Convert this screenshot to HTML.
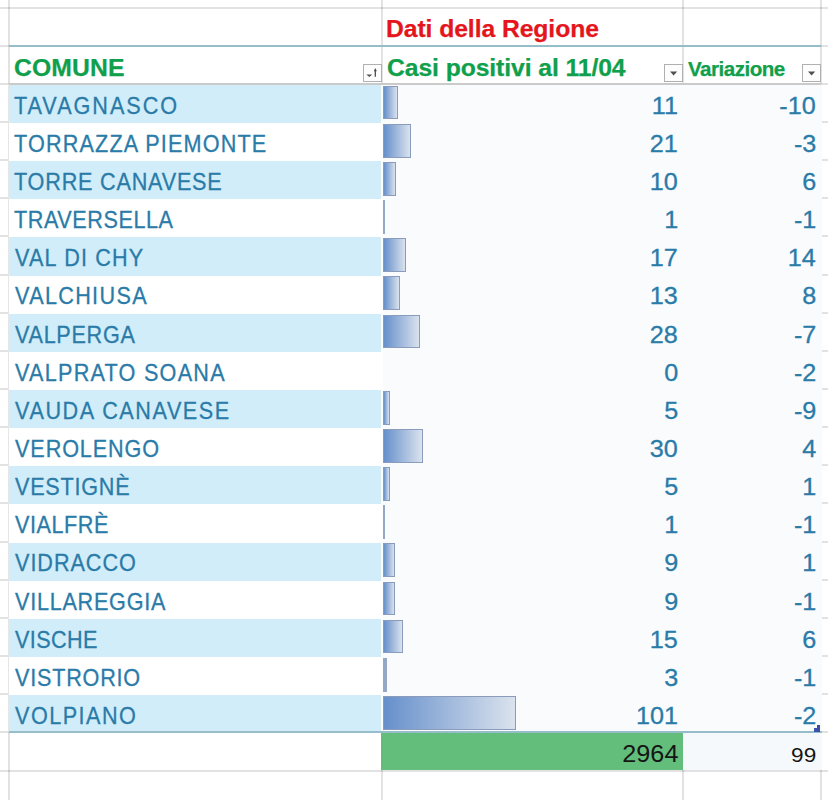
<!DOCTYPE html>
<html><head><meta charset="utf-8"><style>
html,body{margin:0;padding:0;background:#fff;width:828px;height:800px;overflow:hidden}
body{position:relative;font-family:"Liberation Sans",sans-serif}
.t{position:absolute;line-height:normal;white-space:nowrap}
</style></head><body>
<div style="position:absolute;left:0.00px;top:6.50px;width:828.00px;height:2.00px;background:rgba(0,0,0,0.115)"></div><div style="position:absolute;left:0.00px;top:44.65px;width:828.00px;height:2.00px;background:rgba(0,0,0,0.115)"></div><div style="position:absolute;left:0.00px;top:82.80px;width:828.00px;height:2.00px;background:rgba(0,0,0,0.115)"></div><div style="position:absolute;left:0.00px;top:120.95px;width:828.00px;height:2.00px;background:rgba(0,0,0,0.115)"></div><div style="position:absolute;left:0.00px;top:159.10px;width:828.00px;height:2.00px;background:rgba(0,0,0,0.115)"></div><div style="position:absolute;left:0.00px;top:197.25px;width:828.00px;height:2.00px;background:rgba(0,0,0,0.115)"></div><div style="position:absolute;left:0.00px;top:235.40px;width:828.00px;height:2.00px;background:rgba(0,0,0,0.115)"></div><div style="position:absolute;left:0.00px;top:273.55px;width:828.00px;height:2.00px;background:rgba(0,0,0,0.115)"></div><div style="position:absolute;left:0.00px;top:311.70px;width:828.00px;height:2.00px;background:rgba(0,0,0,0.115)"></div><div style="position:absolute;left:0.00px;top:349.85px;width:828.00px;height:2.00px;background:rgba(0,0,0,0.115)"></div><div style="position:absolute;left:0.00px;top:388.00px;width:828.00px;height:2.00px;background:rgba(0,0,0,0.115)"></div><div style="position:absolute;left:0.00px;top:426.15px;width:828.00px;height:2.00px;background:rgba(0,0,0,0.115)"></div><div style="position:absolute;left:0.00px;top:464.30px;width:828.00px;height:2.00px;background:rgba(0,0,0,0.115)"></div><div style="position:absolute;left:0.00px;top:502.45px;width:828.00px;height:2.00px;background:rgba(0,0,0,0.115)"></div><div style="position:absolute;left:0.00px;top:540.60px;width:828.00px;height:2.00px;background:rgba(0,0,0,0.115)"></div><div style="position:absolute;left:0.00px;top:578.75px;width:828.00px;height:2.00px;background:rgba(0,0,0,0.115)"></div><div style="position:absolute;left:0.00px;top:616.90px;width:828.00px;height:2.00px;background:rgba(0,0,0,0.115)"></div><div style="position:absolute;left:0.00px;top:655.05px;width:828.00px;height:2.00px;background:rgba(0,0,0,0.115)"></div><div style="position:absolute;left:0.00px;top:693.20px;width:828.00px;height:2.00px;background:rgba(0,0,0,0.115)"></div><div style="position:absolute;left:0.00px;top:731.35px;width:828.00px;height:2.00px;background:rgba(0,0,0,0.115)"></div><div style="position:absolute;left:0.00px;top:769.50px;width:828.00px;height:2.00px;background:rgba(0,0,0,0.115)"></div><div style="position:absolute;left:8.00px;top:0.00px;width:2.00px;height:83.80px;background:rgba(0,0,0,0.115)"></div><div style="position:absolute;left:8.00px;top:732.35px;width:2.00px;height:67.65px;background:rgba(0,0,0,0.115)"></div><div style="position:absolute;left:381.00px;top:0.00px;width:2.00px;height:83.80px;background:rgba(0,0,0,0.115)"></div><div style="position:absolute;left:381.00px;top:732.35px;width:2.00px;height:67.65px;background:rgba(0,0,0,0.115)"></div><div style="position:absolute;left:682.00px;top:0.00px;width:2.00px;height:83.80px;background:rgba(0,0,0,0.115)"></div><div style="position:absolute;left:682.00px;top:732.35px;width:2.00px;height:67.65px;background:rgba(0,0,0,0.115)"></div><div style="position:absolute;left:820.00px;top:0.00px;width:2.00px;height:83.80px;background:rgba(0,0,0,0.115)"></div><div style="position:absolute;left:820.00px;top:732.35px;width:2.00px;height:67.65px;background:rgba(0,0,0,0.115)"></div><div style="position:absolute;left:8.00px;top:83.80px;width:1.00px;height:648.55px;background:#e6e6e6"></div><div style="position:absolute;left:9.00px;top:84.80px;width:372.00px;height:38.15px;background:#d1edf9"></div><div style="position:absolute;left:9.00px;top:122.95px;width:372.00px;height:38.15px;background:#ffffff"></div><div style="position:absolute;left:9.00px;top:161.10px;width:372.00px;height:38.15px;background:#d1edf9"></div><div style="position:absolute;left:9.00px;top:199.25px;width:372.00px;height:38.15px;background:#ffffff"></div><div style="position:absolute;left:9.00px;top:237.40px;width:372.00px;height:38.15px;background:#d1edf9"></div><div style="position:absolute;left:9.00px;top:275.55px;width:372.00px;height:38.15px;background:#ffffff"></div><div style="position:absolute;left:9.00px;top:313.70px;width:372.00px;height:38.15px;background:#d1edf9"></div><div style="position:absolute;left:9.00px;top:351.85px;width:372.00px;height:38.15px;background:#ffffff"></div><div style="position:absolute;left:9.00px;top:390.00px;width:372.00px;height:38.15px;background:#d1edf9"></div><div style="position:absolute;left:9.00px;top:428.15px;width:372.00px;height:38.15px;background:#ffffff"></div><div style="position:absolute;left:9.00px;top:466.30px;width:372.00px;height:38.15px;background:#d1edf9"></div><div style="position:absolute;left:9.00px;top:504.45px;width:372.00px;height:38.15px;background:#ffffff"></div><div style="position:absolute;left:9.00px;top:542.60px;width:372.00px;height:38.15px;background:#d1edf9"></div><div style="position:absolute;left:9.00px;top:580.75px;width:372.00px;height:38.15px;background:#ffffff"></div><div style="position:absolute;left:9.00px;top:618.90px;width:372.00px;height:38.15px;background:#d1edf9"></div><div style="position:absolute;left:9.00px;top:657.05px;width:372.00px;height:38.15px;background:#ffffff"></div><div style="position:absolute;left:9.00px;top:695.20px;width:372.00px;height:38.15px;background:#d1edf9"></div><div style="position:absolute;left:381.00px;top:84.80px;width:2.00px;height:647.55px;background:#fff"></div><div style="position:absolute;left:383.00px;top:84.80px;width:438.50px;height:647.55px;background:#f9fbfd"></div><div style="position:absolute;left:9.00px;top:82.80px;width:812.00px;height:2.00px;background:#cacaca"></div><div style="position:absolute;left:9.00px;top:44.65px;width:812.00px;height:2.00px;background:#96bdca"></div><div style="position:absolute;left:9.00px;top:731.35px;width:813.00px;height:2.00px;background:#96bdca"></div><div style="position:absolute;left:10.00px;top:46.65px;width:810.00px;height:36.15px;background:#fff"></div><div style="position:absolute;left:381.00px;top:46.65px;width:2.00px;height:36.15px;background:rgba(0,0,0,0.115)"></div><div style="position:absolute;left:682.00px;top:46.65px;width:2.00px;height:36.15px;background:rgba(0,0,0,0.115)"></div><div style="position:absolute;left:381.00px;top:733.35px;width:302.00px;height:37.15px;background:#63be7b"></div><div style="position:absolute;left:683.00px;top:733.35px;width:139.00px;height:37.15px;background:#f6f9fb"></div><div style="position:absolute;left:383.30px;top:85.60px;width:14.46px;height:33.80px;box-sizing:border-box;border:1.25px solid #8a9bbb;background:linear-gradient(to right,#6690cb,#dae2ed)"></div><div style="position:absolute;left:383.30px;top:123.75px;width:27.61px;height:33.80px;box-sizing:border-box;border:1.25px solid #8a9bbb;background:linear-gradient(to right,#6690cb,#dae2ed)"></div><div style="position:absolute;left:383.30px;top:161.90px;width:13.15px;height:33.80px;box-sizing:border-box;border:1.25px solid #8a9bbb;background:linear-gradient(to right,#6690cb,#dae2ed)"></div><div style="position:absolute;left:383.30px;top:200.05px;width:1.50px;height:33.80px;background:#95a7c6"></div><div style="position:absolute;left:383.30px;top:238.20px;width:22.36px;height:33.80px;box-sizing:border-box;border:1.25px solid #8a9bbb;background:linear-gradient(to right,#6690cb,#dae2ed)"></div><div style="position:absolute;left:383.30px;top:276.35px;width:17.09px;height:33.80px;box-sizing:border-box;border:1.25px solid #8a9bbb;background:linear-gradient(to right,#6690cb,#dae2ed)"></div><div style="position:absolute;left:383.30px;top:314.50px;width:36.82px;height:33.80px;box-sizing:border-box;border:1.25px solid #8a9bbb;background:linear-gradient(to right,#6690cb,#dae2ed)"></div><div style="position:absolute;left:383.30px;top:390.80px;width:6.57px;height:33.80px;box-sizing:border-box;border:1.25px solid #8a9bbb;background:linear-gradient(to right,#6690cb,#dae2ed)"></div><div style="position:absolute;left:383.30px;top:428.95px;width:39.45px;height:33.80px;box-sizing:border-box;border:1.25px solid #8a9bbb;background:linear-gradient(to right,#6690cb,#dae2ed)"></div><div style="position:absolute;left:383.30px;top:467.10px;width:6.57px;height:33.80px;box-sizing:border-box;border:1.25px solid #8a9bbb;background:linear-gradient(to right,#6690cb,#dae2ed)"></div><div style="position:absolute;left:383.30px;top:505.25px;width:1.50px;height:33.80px;background:#95a7c6"></div><div style="position:absolute;left:383.30px;top:543.40px;width:11.83px;height:33.80px;box-sizing:border-box;border:1.25px solid #8a9bbb;background:linear-gradient(to right,#6690cb,#dae2ed)"></div><div style="position:absolute;left:383.30px;top:581.55px;width:11.83px;height:33.80px;box-sizing:border-box;border:1.25px solid #8a9bbb;background:linear-gradient(to right,#6690cb,#dae2ed)"></div><div style="position:absolute;left:383.30px;top:619.70px;width:19.72px;height:33.80px;box-sizing:border-box;border:1.25px solid #8a9bbb;background:linear-gradient(to right,#6690cb,#dae2ed)"></div><div style="position:absolute;left:383.30px;top:657.85px;width:3.94px;height:33.80px;background:#95a7c6"></div><div style="position:absolute;left:383.30px;top:696.00px;width:132.81px;height:33.80px;box-sizing:border-box;border:1.25px solid #8a9bbb;background:linear-gradient(to right,#6690cb,#dae2ed)"></div><div class="t" style="left:13.80px;top:91.63px;transform-origin:0 0;transform:scaleX(0.9000);color:#2a7ba8;font-size:24px;-webkit-text-stroke:0.3px #2a7ba8;letter-spacing:2.198px">TAVAGNASCO</div><div class="t" style="right:149.90px;top:91.63px;transform-origin:100% 0;transform:scaleX(1.0500);color:#2a7ba8;font-size:24px;-webkit-text-stroke:0.3px #2a7ba8">11</div><div class="t" style="right:12.00px;top:91.63px;transform-origin:100% 0;transform:scaleX(1.0500);color:#2a7ba8;font-size:24px;-webkit-text-stroke:0.3px #2a7ba8">-10</div><div class="t" style="left:13.80px;top:129.78px;transform-origin:0 0;transform:scaleX(0.9000);color:#2a7ba8;font-size:24px;-webkit-text-stroke:0.3px #2a7ba8;letter-spacing:1.292px">TORRAZZA PIEMONTE</div><div class="t" style="right:149.90px;top:129.78px;transform-origin:100% 0;transform:scaleX(1.0500);color:#2a7ba8;font-size:24px;-webkit-text-stroke:0.3px #2a7ba8">21</div><div class="t" style="right:12.00px;top:129.78px;transform-origin:100% 0;transform:scaleX(1.0500);color:#2a7ba8;font-size:24px;-webkit-text-stroke:0.3px #2a7ba8">-3</div><div class="t" style="left:13.80px;top:167.93px;transform-origin:0 0;transform:scaleX(0.9000);color:#2a7ba8;font-size:24px;-webkit-text-stroke:0.3px #2a7ba8;letter-spacing:0.897px">TORRE CANAVESE</div><div class="t" style="right:149.90px;top:167.93px;transform-origin:100% 0;transform:scaleX(1.0500);color:#2a7ba8;font-size:24px;-webkit-text-stroke:0.3px #2a7ba8">10</div><div class="t" style="right:12.00px;top:167.93px;transform-origin:100% 0;transform:scaleX(1.0500);color:#2a7ba8;font-size:24px;-webkit-text-stroke:0.3px #2a7ba8">6</div><div class="t" style="left:13.80px;top:206.08px;transform-origin:0 0;transform:scaleX(0.9000);color:#2a7ba8;font-size:24px;-webkit-text-stroke:0.3px #2a7ba8;letter-spacing:0.633px">TRAVERSELLA</div><div class="t" style="right:149.90px;top:206.08px;transform-origin:100% 0;transform:scaleX(1.0500);color:#2a7ba8;font-size:24px;-webkit-text-stroke:0.3px #2a7ba8">1</div><div class="t" style="right:12.00px;top:206.08px;transform-origin:100% 0;transform:scaleX(1.0500);color:#2a7ba8;font-size:24px;-webkit-text-stroke:0.3px #2a7ba8">-1</div><div class="t" style="left:15.10px;top:244.23px;transform-origin:0 0;transform:scaleX(0.9000);color:#2a7ba8;font-size:24px;-webkit-text-stroke:0.3px #2a7ba8;letter-spacing:1.309px">VAL DI CHY</div><div class="t" style="right:149.90px;top:244.23px;transform-origin:100% 0;transform:scaleX(1.0500);color:#2a7ba8;font-size:24px;-webkit-text-stroke:0.3px #2a7ba8">17</div><div class="t" style="right:12.00px;top:244.23px;transform-origin:100% 0;transform:scaleX(1.0500);color:#2a7ba8;font-size:24px;-webkit-text-stroke:0.3px #2a7ba8">14</div><div class="t" style="left:15.10px;top:282.38px;transform-origin:0 0;transform:scaleX(0.9000);color:#2a7ba8;font-size:24px;-webkit-text-stroke:0.3px #2a7ba8;letter-spacing:1.486px">VALCHIUSA</div><div class="t" style="right:149.90px;top:282.38px;transform-origin:100% 0;transform:scaleX(1.0500);color:#2a7ba8;font-size:24px;-webkit-text-stroke:0.3px #2a7ba8">13</div><div class="t" style="right:12.00px;top:282.38px;transform-origin:100% 0;transform:scaleX(1.0500);color:#2a7ba8;font-size:24px;-webkit-text-stroke:0.3px #2a7ba8">8</div><div class="t" style="left:15.10px;top:320.53px;transform-origin:0 0;transform:scaleX(0.9000);color:#2a7ba8;font-size:24px;-webkit-text-stroke:0.3px #2a7ba8;letter-spacing:0.794px">VALPERGA</div><div class="t" style="right:149.90px;top:320.53px;transform-origin:100% 0;transform:scaleX(1.0500);color:#2a7ba8;font-size:24px;-webkit-text-stroke:0.3px #2a7ba8">28</div><div class="t" style="right:12.00px;top:320.53px;transform-origin:100% 0;transform:scaleX(1.0500);color:#2a7ba8;font-size:24px;-webkit-text-stroke:0.3px #2a7ba8">-7</div><div class="t" style="left:15.10px;top:358.68px;transform-origin:0 0;transform:scaleX(0.9000);color:#2a7ba8;font-size:24px;-webkit-text-stroke:0.3px #2a7ba8;letter-spacing:1.393px">VALPRATO SOANA</div><div class="t" style="right:149.90px;top:358.68px;transform-origin:100% 0;transform:scaleX(1.0500);color:#2a7ba8;font-size:24px;-webkit-text-stroke:0.3px #2a7ba8">0</div><div class="t" style="right:12.00px;top:358.68px;transform-origin:100% 0;transform:scaleX(1.0500);color:#2a7ba8;font-size:24px;-webkit-text-stroke:0.3px #2a7ba8">-2</div><div class="t" style="left:15.10px;top:396.83px;transform-origin:0 0;transform:scaleX(0.9000);color:#2a7ba8;font-size:24px;-webkit-text-stroke:0.3px #2a7ba8;letter-spacing:1.761px">VAUDA CANAVESE</div><div class="t" style="right:149.90px;top:396.83px;transform-origin:100% 0;transform:scaleX(1.0500);color:#2a7ba8;font-size:24px;-webkit-text-stroke:0.3px #2a7ba8">5</div><div class="t" style="right:12.00px;top:396.83px;transform-origin:100% 0;transform:scaleX(1.0500);color:#2a7ba8;font-size:24px;-webkit-text-stroke:0.3px #2a7ba8">-9</div><div class="t" style="left:15.10px;top:434.98px;transform-origin:0 0;transform:scaleX(0.9000);color:#2a7ba8;font-size:24px;-webkit-text-stroke:0.3px #2a7ba8;letter-spacing:1.014px">VEROLENGO</div><div class="t" style="right:149.90px;top:434.98px;transform-origin:100% 0;transform:scaleX(1.0500);color:#2a7ba8;font-size:24px;-webkit-text-stroke:0.3px #2a7ba8">30</div><div class="t" style="right:12.00px;top:434.98px;transform-origin:100% 0;transform:scaleX(1.0500);color:#2a7ba8;font-size:24px;-webkit-text-stroke:0.3px #2a7ba8">4</div><div class="t" style="left:15.10px;top:473.13px;transform-origin:0 0;transform:scaleX(0.9000);color:#2a7ba8;font-size:24px;-webkit-text-stroke:0.3px #2a7ba8;letter-spacing:0.857px">VESTIGNÈ</div><div class="t" style="right:149.90px;top:473.13px;transform-origin:100% 0;transform:scaleX(1.0500);color:#2a7ba8;font-size:24px;-webkit-text-stroke:0.3px #2a7ba8">5</div><div class="t" style="right:12.00px;top:473.13px;transform-origin:100% 0;transform:scaleX(1.0500);color:#2a7ba8;font-size:24px;-webkit-text-stroke:0.3px #2a7ba8">1</div><div class="t" style="left:15.10px;top:511.28px;transform-origin:0 0;transform:scaleX(0.9000);color:#2a7ba8;font-size:24px;-webkit-text-stroke:0.3px #2a7ba8;letter-spacing:0.611px">VIALFRÈ</div><div class="t" style="right:149.90px;top:511.28px;transform-origin:100% 0;transform:scaleX(1.0500);color:#2a7ba8;font-size:24px;-webkit-text-stroke:0.3px #2a7ba8">1</div><div class="t" style="right:12.00px;top:511.28px;transform-origin:100% 0;transform:scaleX(1.0500);color:#2a7ba8;font-size:24px;-webkit-text-stroke:0.3px #2a7ba8">-1</div><div class="t" style="left:15.10px;top:549.43px;transform-origin:0 0;transform:scaleX(0.9000);color:#2a7ba8;font-size:24px;-webkit-text-stroke:0.3px #2a7ba8;letter-spacing:1.079px">VIDRACCO</div><div class="t" style="right:149.90px;top:549.43px;transform-origin:100% 0;transform:scaleX(1.0500);color:#2a7ba8;font-size:24px;-webkit-text-stroke:0.3px #2a7ba8">9</div><div class="t" style="right:12.00px;top:549.43px;transform-origin:100% 0;transform:scaleX(1.0500);color:#2a7ba8;font-size:24px;-webkit-text-stroke:0.3px #2a7ba8">1</div><div class="t" style="left:15.10px;top:587.58px;transform-origin:0 0;transform:scaleX(0.9000);color:#2a7ba8;font-size:24px;-webkit-text-stroke:0.3px #2a7ba8;letter-spacing:0.833px">VILLAREGGIA</div><div class="t" style="right:149.90px;top:587.58px;transform-origin:100% 0;transform:scaleX(1.0500);color:#2a7ba8;font-size:24px;-webkit-text-stroke:0.3px #2a7ba8">9</div><div class="t" style="right:12.00px;top:587.58px;transform-origin:100% 0;transform:scaleX(1.0500);color:#2a7ba8;font-size:24px;-webkit-text-stroke:0.3px #2a7ba8">-1</div><div class="t" style="left:15.10px;top:625.73px;transform-origin:0 0;transform:scaleX(0.9000);color:#2a7ba8;font-size:24px;-webkit-text-stroke:0.3px #2a7ba8;letter-spacing:0.467px">VISCHE</div><div class="t" style="right:149.90px;top:625.73px;transform-origin:100% 0;transform:scaleX(1.0500);color:#2a7ba8;font-size:24px;-webkit-text-stroke:0.3px #2a7ba8">15</div><div class="t" style="right:12.00px;top:625.73px;transform-origin:100% 0;transform:scaleX(1.0500);color:#2a7ba8;font-size:24px;-webkit-text-stroke:0.3px #2a7ba8">6</div><div class="t" style="left:15.10px;top:663.88px;transform-origin:0 0;transform:scaleX(0.9000);color:#2a7ba8;font-size:24px;-webkit-text-stroke:0.3px #2a7ba8;letter-spacing:0.875px">VISTRORIO</div><div class="t" style="right:149.90px;top:663.88px;transform-origin:100% 0;transform:scaleX(1.0500);color:#2a7ba8;font-size:24px;-webkit-text-stroke:0.3px #2a7ba8">3</div><div class="t" style="right:12.00px;top:663.88px;transform-origin:100% 0;transform:scaleX(1.0500);color:#2a7ba8;font-size:24px;-webkit-text-stroke:0.3px #2a7ba8">-1</div><div class="t" style="left:15.10px;top:702.03px;transform-origin:0 0;transform:scaleX(0.9000);color:#2a7ba8;font-size:24px;-webkit-text-stroke:0.3px #2a7ba8;letter-spacing:1.651px">VOLPIANO</div><div class="t" style="right:149.90px;top:702.03px;transform-origin:100% 0;transform:scaleX(1.0500);color:#2a7ba8;font-size:24px;-webkit-text-stroke:0.3px #2a7ba8">101</div><div class="t" style="right:12.00px;top:702.03px;transform-origin:100% 0;transform:scaleX(1.0500);color:#2a7ba8;font-size:24px;-webkit-text-stroke:0.3px #2a7ba8">-2</div><div class="t" style="left:13.97px;top:53.58px;transform-origin:0 0;transform:scaleX(1.0300);color:#10a04c;font-size:24px;font-weight:bold;-webkit-text-stroke:0.25px #10a04c;letter-spacing:0.107px">COMUNE</div><div class="t" style="left:386.77px;top:53.58px;transform-origin:0 0;transform:scaleX(1.0300);color:#10a04c;font-size:24px;font-weight:bold;-webkit-text-stroke:0.25px #10a04c;letter-spacing:-0.086px">Casi positivi al 11/04</div><div class="t" style="left:688.00px;top:57.50px;transform-origin:0 0;transform:scaleX(1.0300);color:#10a04c;font-size:20px;font-weight:bold;-webkit-text-stroke:0.25px #10a04c;letter-spacing:-0.501px">Variazione</div><div class="t" style="left:386.34px;top:15.38px;transform-origin:0 0;transform:scaleX(1.0300);color:#e4161c;font-size:24px;font-weight:bold;-webkit-text-stroke:0.25px #e4161c;letter-spacing:-0.077px">Dati della Regione</div><div class="t" style="right:149.50px;top:740.33px;transform-origin:100% 0;transform:scaleX(1.0500);color:#151515;font-size:24px">2964</div><div class="t" style="right:11.40px;top:743.95px;transform-origin:100% 0;transform:scaleX(1.1300);color:#151515;font-size:20px">99</div><div style="position:absolute;left:362.6px;top:64px;width:19px;height:17.6px;box-sizing:border-box;border:1.4px solid #b0b0b0;background:#fdfdfd"><svg width="16" height="14" style="position:absolute;left:0;top:0"><path d="M2.3 9.4h6l-3 2.6z" fill="#505050"/><path d="M11.3 5.5v6.3" stroke="#4a4a4a" stroke-width="1.3"/><path d="M9.8 6.3l1.5-3.2 1.5 3.2z" fill="#4a4a4a"/></svg></div><div style="position:absolute;left:664.2px;top:64px;width:19px;height:17.6px;box-sizing:border-box;border:1.4px solid #b0b0b0;background:#fdfdfd"><svg width="16" height="14" style="position:absolute;left:0;top:0"><path d="M5 6.6h7.2l-3.6 3.8z" fill="#505050"/></svg></div><div style="position:absolute;left:801.8px;top:64px;width:19px;height:17.6px;box-sizing:border-box;border:1.4px solid #b0b0b0;background:#fdfdfd"><svg width="16" height="14" style="position:absolute;left:0;top:0"><path d="M5 6.6h7.2l-3.6 3.8z" fill="#505050"/></svg></div><div style="position:absolute;left:817.00px;top:724.80px;width:3.20px;height:7.40px;background:#3a4ea6"></div><div style="position:absolute;left:813.50px;top:728.00px;width:3.60px;height:4.20px;background:#3d55ab"></div>
</body></html>
